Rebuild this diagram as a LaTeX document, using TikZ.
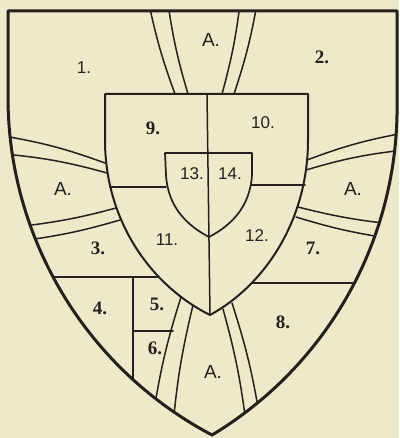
\documentclass[tikz,border=0pt]{standalone}
\usepackage{fontspec}
\setmainfont{Liberation Serif}
\newfontfamily\sansf{Liberation Sans}
\definecolor{paper}{RGB}{236,234,202}
\definecolor{ink}{RGB}{38,32,26}
\begin{document}
\begin{tikzpicture}[x=1pt,y=-1pt,line join=round,line cap=round,
  outerline/.style={draw=ink,line width=3pt},
  innerline/.style={draw=ink,line width=2pt},
  bandline/.style={draw=ink,line width=1.5pt},
  numlab/.style={text=ink,font=\fontsize{19}{19}\selectfont\bfseries,inner sep=0pt},
  sanslab/.style={text=ink,font=\sansf\fontsize{17}{17}\selectfont,inner sep=0pt},
  alab/.style={text=ink,font=\sansf\fontsize{19}{19}\selectfont,inner sep=0pt}]
\fill[paper] (0,0) rectangle (399,438);
\useasboundingbox (0,0) rectangle (399,438);

% interior lines clipped to the outer shield
\begin{scope}
\clip (8,11) -- (8,97) arc[start angle=180,end angle=117.77,radius=382]
  arc[start angle=58.96,end angle=0,radius=382] -- (397,11) -- cycle;
% upper arm
\draw[bandline] (149,4) to[bend right=4] (175,94);
\draw[bandline] (168,4) to[bend right=4] (188,94);
\draw[bandline] (240,4) to[bend left=4] (222,94);
\draw[bandline] (257,4) to[bend left=4] (234,94);
% left arm
\draw[bandline] (4,136) to[bend left=5] (105,163);
\draw[bandline] (4,154) to[bend left=5] (107,173);
\draw[bandline] (24,226) to[bend right=4] (116,208);
\draw[bandline] (28,240) to[bend right=4] (120,220);
% right arm
\draw[bandline] (404,133) to[bend right=5] (307,160);
\draw[bandline] (404,150) to[bend right=5] (306,170);
\draw[bandline] (392,224) to[bend left=4] (298,207);
\draw[bandline] (387,238) to[bend left=4] (296,217);
% lower arm
\draw[bandline] (181,297) to[bend right=4] (154,410);
\draw[bandline] (193,305) to[bend right=4] (173,425);
\draw[bandline] (223,309) to[bend left=4] (246,423);
\draw[bandline] (232,303) to[bend left=4] (259,413);
% divisions
\draw[bandline] (30,277) -- (158,277);
\draw[bandline] (133,277) -- (133,400);
\draw[bandline] (133,331) -- (173,331);
\draw[bandline] (252,283) -- (380,283);
\end{scope}

% divisions inside the middle shield
\draw[bandline] (110,187) -- (166,187);
\draw[bandline] (251,185) -- (305,185);

% middle shield
\draw[innerline] (105,94) -- (308,94) -- (308,140)
  .. controls (308,220) and (265,285) .. (210,315)
  .. controls (150,285) and (105,220) .. (105,140) -- cycle;
\draw[bandline] (207,94) -- (210,315);

% small shield
\draw[innerline,line width=1.7pt] (165,153) -- (252,153) -- (252,175)
  .. controls (250,208) and (230,226) .. (209,237)
  .. controls (188,226) and (168,208) .. (166,175) -- cycle;

% outer shield
\draw[outerline] (8,11) -- (8,97) arc[start angle=180,end angle=117.77,radius=382]
  arc[start angle=58.96,end angle=0,radius=382] -- (397,11) -- cycle;

% labels
\node[sanslab] (n1) at (84,68) {1.};
\node[alab] (at) at (211,40) {A.};
\node[numlab] (n2) at (322,57) {2.};
\node[numlab] (n9) at (153,128) {9.};
\node[sanslab] (n10) at (263,123) {10.};
\node[alab] (al) at (63,189) {A.};
\node[alab] (ar) at (353,189) {A.};
\node[sanslab] (n13) at (192,174) {13.};
\node[sanslab] (n14) at (230,174) {14.};
\node[numlab] (n3) at (98,248) {3.};
\node[sanslab] (n11) at (167,240) {11.};
\node[sanslab] (n12) at (257,236) {12.};
\node[numlab] (n7) at (313,248) {7.};
\node[numlab] (n4) at (100,308) {4.};
\node[numlab] (n5) at (157,304) {5.};
\node[numlab] (n6) at (155,348) {6.};
\node[numlab] (n8) at (283,322) {8.};
\node[alab] (ab) at (213,372) {A.};
\end{tikzpicture}
\end{document}
